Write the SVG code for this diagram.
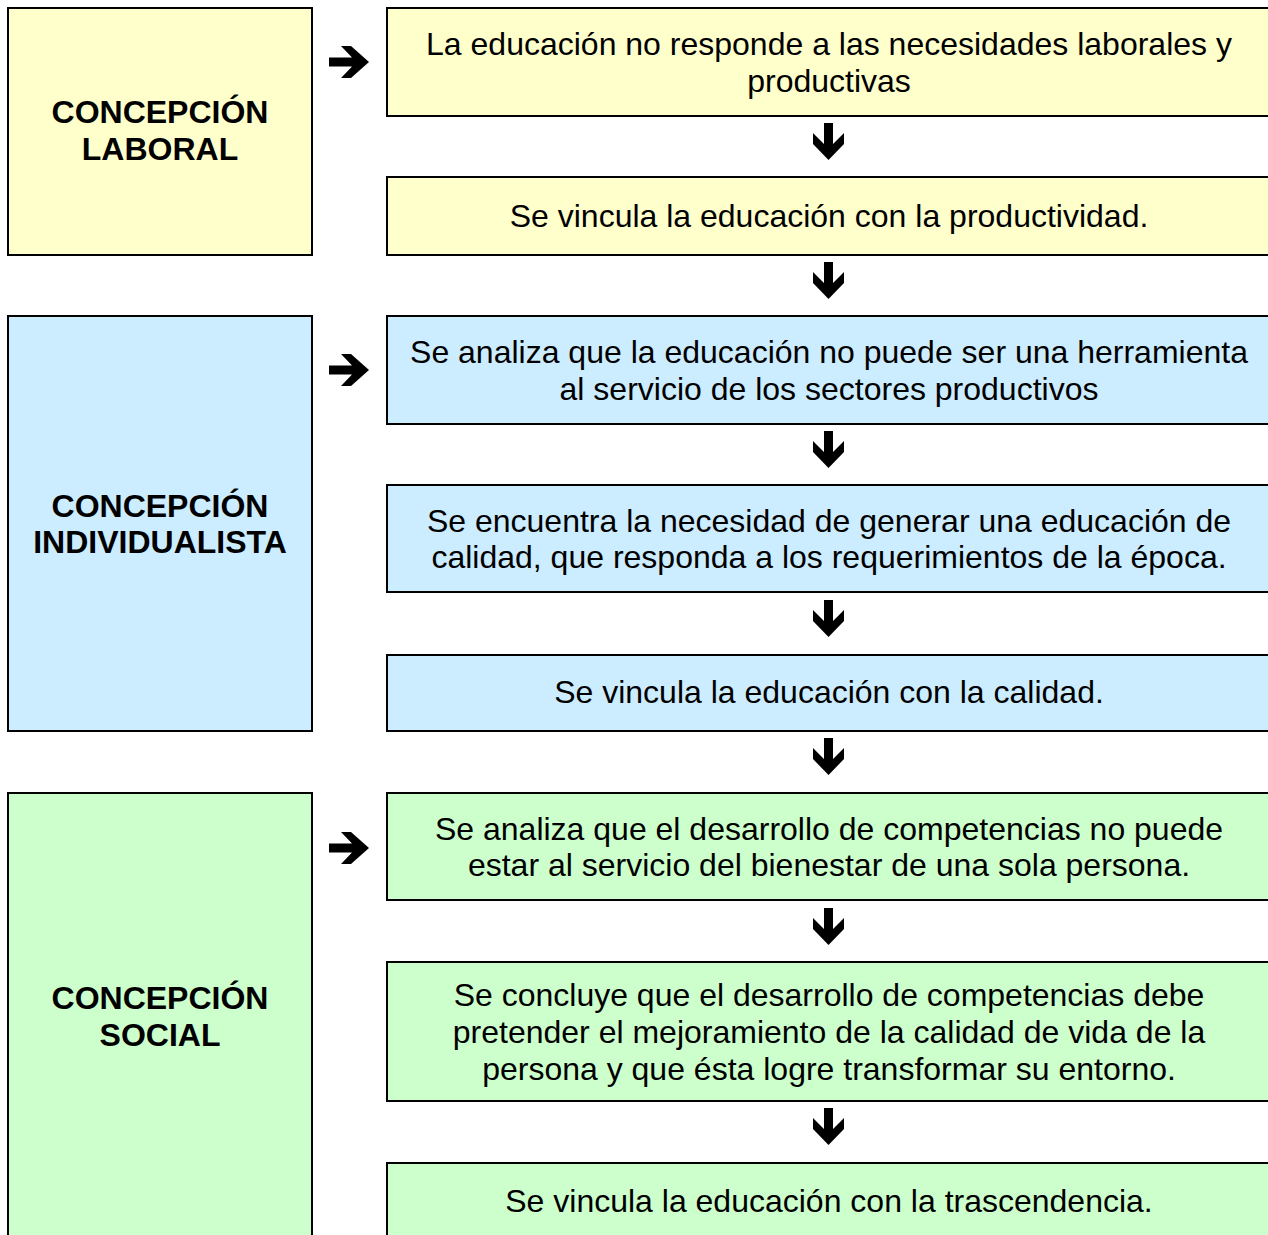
<svg xmlns="http://www.w3.org/2000/svg" xmlns:xlink="http://www.w3.org/1999/xlink" width="1268" height="1235" viewBox="0 0 1268 1235">
<style>
  .box { stroke: #000; stroke-width: 2; }
  .y { fill: #FFFFCC; }
  .b { fill: #CCECFF; }
  .g { fill: #CCFFCC; }
  .t { font-family: "Liberation Sans", Arial, sans-serif; font-size: 32px; fill: #000; text-anchor: middle; }
  .h { font-family: "Liberation Sans", Arial, sans-serif; font-size: 32px; font-weight: bold; fill: #000; text-anchor: middle; }
  .arr { fill: #000; }
</style>
<defs>
  <path id="down" class="arr" d="M-4.5,0 L4.5,0 L4.5,21 L15.5,10 L15.5,21 L0,37 L-15.5,21 L-15.5,10 L-4.5,21 Z"/>
  <path id="right" class="arr" d="M0,-4.5 L23,-4.5 L12,-16 L22,-16 L40,0 L22,16 L12,16 L23,4.5 L0,4.5 Z"/>
</defs>
<rect width="1268" height="1235" fill="#fff"/>

<g id="laboral">
  <rect class="box y" x="8" y="8" width="304" height="247"/>
  <text class="h" x="160" y="123">CONCEPCIÓN</text>
  <text class="h" x="160" y="160">LABORAL</text>
</g>
<g id="l1">
  <rect class="box y" x="387" y="8" width="890" height="108"/>
  <text class="t" x="829" y="54.5">La educación no responde a las necesidades laborales y</text>
  <text class="t" x="829" y="91.5">productivas</text>
</g>
<g id="l2">
  <rect class="box y" x="387" y="177" width="890" height="78"/>
  <text class="t" x="829" y="226.5">Se vincula la educación con la productividad.</text>
</g>

<g id="individualista">
  <rect class="box b" x="8" y="316" width="304" height="415"/>
  <text class="h" x="160" y="516.5">CONCEPCIÓN</text>
  <text class="h" x="160" y="552.5">INDIVIDUALISTA</text>
</g>
<g id="i1">
  <rect class="box b" x="387" y="316" width="890" height="108"/>
  <text class="t" x="829" y="362.5">Se analiza que la educación no puede ser una herramienta</text>
  <text class="t" x="829" y="399.5">al servicio de los sectores productivos</text>
</g>
<g id="i2">
  <rect class="box b" x="387" y="485" width="890" height="107"/>
  <text class="t" x="829" y="531.5">Se encuentra la necesidad de generar una educación de</text>
  <text class="t" x="829" y="567.5">calidad, que responda a los requerimientos de la época.</text>
</g>
<g id="i3">
  <rect class="box b" x="387" y="655" width="890" height="76"/>
  <text class="t" x="829" y="702.5">Se vincula la educación con la calidad.</text>
</g>

<g id="social">
  <rect class="box g" x="8" y="793" width="304" height="460"/>
  <text class="h" x="160" y="1008.5">CONCEPCIÓN</text>
  <text class="h" x="160" y="1045.5">SOCIAL</text>
</g>
<g id="s1">
  <rect class="box g" x="387" y="793" width="890" height="107"/>
  <text class="t" x="829" y="839.5">Se analiza que el desarrollo de competencias no puede</text>
  <text class="t" x="829" y="875.5">estar al servicio del bienestar de una sola persona.</text>
</g>
<g id="s2">
  <rect class="box g" x="387" y="962" width="890" height="139"/>
  <text class="t" x="829" y="1005.5">Se concluye que el desarrollo de competencias debe</text>
  <text class="t" x="829" y="1042.5">pretender el mejoramiento de la calidad de vida de la</text>
  <text class="t" x="829" y="1079.5">persona y que ésta logre transformar su entorno.</text>
</g>
<g id="s3">
  <rect class="box g" x="387" y="1163" width="890" height="90"/>
  <text class="t" x="829" y="1211.5">Se vincula la educación con la trascendencia.</text>
</g>

<g id="connectors">
  <use xlink:href="#right" x="329" y="62"/>
  <use xlink:href="#right" x="329" y="370"/>
  <use xlink:href="#right" x="329" y="848"/>
  <use xlink:href="#down" x="828.5" y="123"/>
  <use xlink:href="#down" x="828.5" y="262"/>
  <use xlink:href="#down" x="828.5" y="431"/>
  <use xlink:href="#down" x="828.5" y="600"/>
  <use xlink:href="#down" x="828.5" y="738"/>
  <use xlink:href="#down" x="828.5" y="908"/>
  <use xlink:href="#down" x="828.5" y="1108"/>
</g>
</svg>
